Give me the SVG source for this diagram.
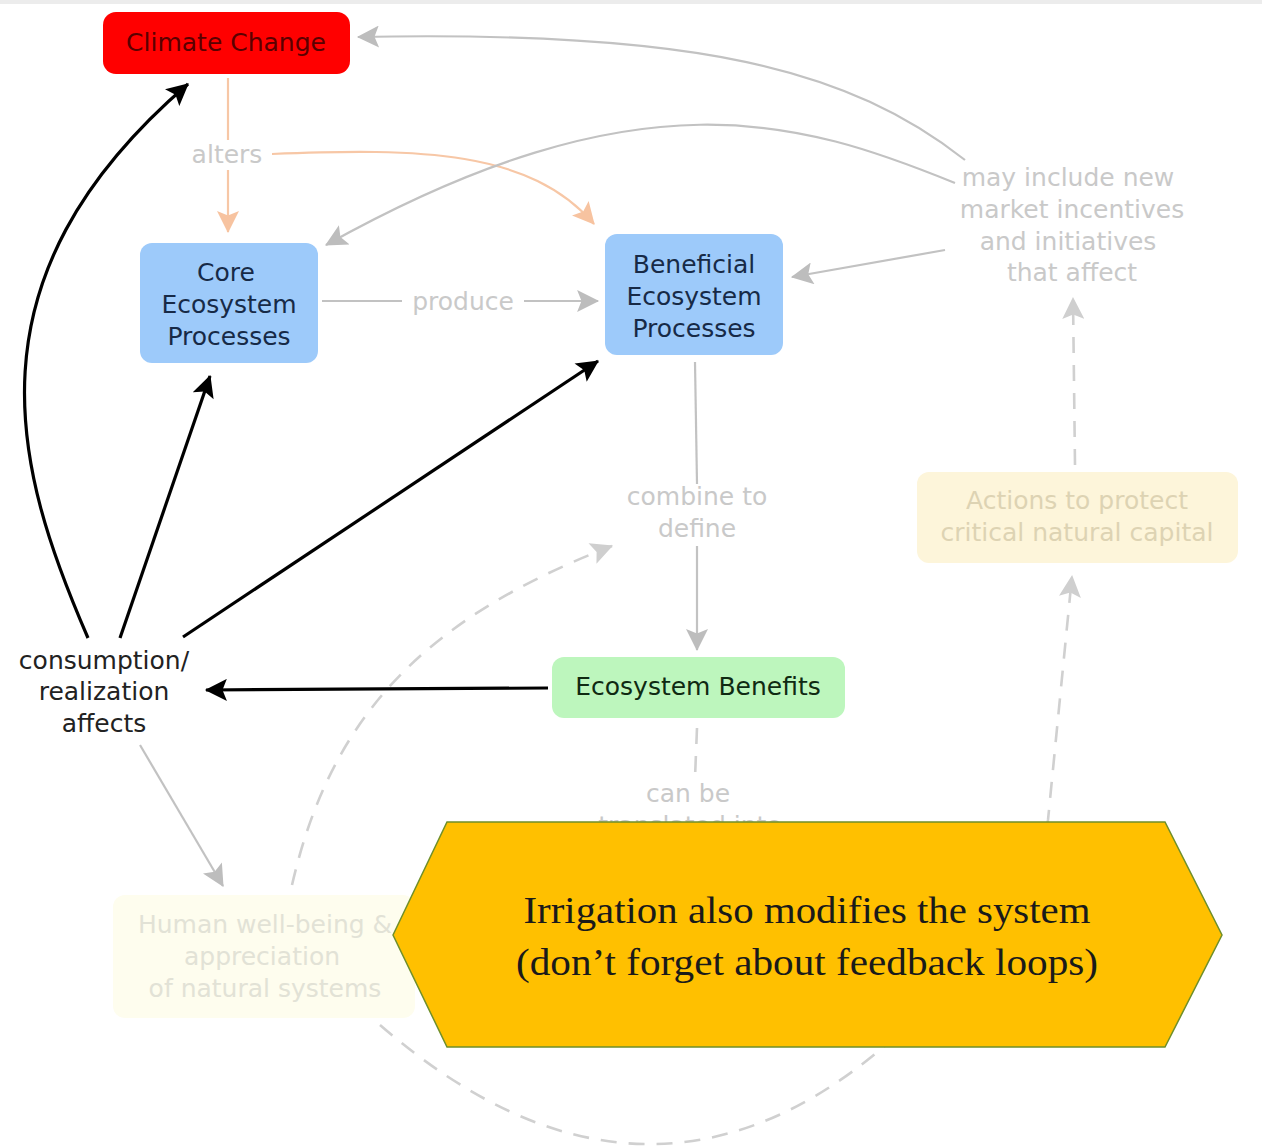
<svg xmlns="http://www.w3.org/2000/svg" width="1262" height="1148" viewBox="0 0 1262 1148">
<defs>
<style>
.lbl{font-family:"DejaVu Sans",Verdana,sans-serif;font-size:25px;text-anchor:middle}
.faint{fill:#c9c9c9}
.blk{fill:none;stroke:#000;stroke-width:3.2}
.gry{fill:none;stroke:#c2c2c2;stroke-width:2.2}
.dsh{fill:none;stroke:#d0d0d0;stroke-width:2.6;stroke-dasharray:16 12}
.org{fill:none;stroke:#f7c7a6;stroke-width:2.2}
</style>
<marker id="aB" viewBox="0 0 20 20" refX="19" refY="10" markerWidth="24" markerHeight="22" markerUnits="userSpaceOnUse" orient="auto"><path d="M0,0 L20,10 L0,20 L4,10 z" fill="#000"/></marker>
<marker id="aG" viewBox="0 0 20 20" refX="19" refY="10" markerWidth="24" markerHeight="22" markerUnits="userSpaceOnUse" orient="auto"><path d="M0,0 L20,10 L0,20 L4,10 z" fill="#bdbdbd"/></marker>
<marker id="aL" viewBox="0 0 20 20" refX="19" refY="10" markerWidth="24" markerHeight="22" markerUnits="userSpaceOnUse" orient="auto"><path d="M0,0 L20,10 L0,20 L4,10 z" fill="#cfcfcf"/></marker>
<marker id="aO" viewBox="0 0 20 20" refX="19" refY="10" markerWidth="24" markerHeight="22" markerUnits="userSpaceOnUse" orient="auto"><path d="M0,0 L20,10 L0,20 L4,10 z" fill="#f7c3a0"/></marker>
</defs>
<rect width="1262" height="1148" fill="#fff"/>
<rect width="1262" height="4" fill="#ececec"/>

<g id="connectors">
  <!-- orange: alters -->
  <path class="org" d="M228,78 L228,140"/>
  <path class="org" d="M228,170 L228,232" marker-end="url(#aO)"/>
  <path class="org" d="M272,154 C420,148 530,150 594,224" marker-end="url(#aO)"/>
  <!-- gray solid -->
  <path class="gry" d="M322,301 L402,301"/>
  <path class="gry" d="M524,301 L598,301" marker-end="url(#aG)"/>
  <path class="gry" d="M695,362 L697,484"/>
  <path class="gry" d="M697,546 L697,650" marker-end="url(#aG)"/>
  <path class="gry" d="M965,160 C850,70 700,30 358,37" marker-end="url(#aG)"/>
  <path class="gry" d="M955,183 C800,120 640,70 326,245" marker-end="url(#aG)"/>
  <path class="gry" d="M945,250 L792,277" marker-end="url(#aG)"/>
  <path class="gry" d="M140,745 L223,886" marker-end="url(#aG)"/>
  <!-- dashed -->
  <path class="dsh" d="M1075,465 L1073,298" marker-end="url(#aL)"/>
  <path class="dsh" d="M292,885 C330,720 420,620 612,546" marker-end="url(#aL)"/>
  <path class="dsh" d="M697,728 L695,778"/>
  <path class="dsh" d="M380,1025 Q640,1250 880,1050 C990,960 1040,880 1048,820 L1072,576" marker-end="url(#aL)"/>
  <!-- black -->
  <path class="blk" d="M88,638 C15,470 -40,280 188,84" marker-end="url(#aB)"/>
  <path class="blk" d="M120,638 L210,376" marker-end="url(#aB)"/>
  <path class="blk" d="M183,637 L598,361" marker-end="url(#aB)"/>
  <path class="blk" d="M548,688 L206,690" marker-end="url(#aB)"/>
</g>

<g id="climate-change">
  <rect x="103" y="12" width="247" height="62" rx="13" fill="#ff0000"/>
  <text class="lbl" x="226" y="51" fill="#5a0000">Climate Change</text>
</g>
<g id="alters"><text class="lbl faint" x="227" y="163">alters</text></g>
<g id="core-ecosystem-processes">
  <rect x="140" y="243" width="178" height="120" rx="12" fill="#9dcafa"/>
  <text class="lbl" x="226" y="281" fill="#172a47">Core</text>
  <text class="lbl" x="229" y="313" fill="#172a47">Ecosystem</text>
  <text class="lbl" x="229" y="345" fill="#172a47">Processes</text>
</g>
<g id="produce"><text class="lbl faint" x="463" y="310">produce</text></g>
<g id="beneficial-ecosystem-processes">
  <rect x="605" y="234" width="178" height="121" rx="12" fill="#9dcafa"/>
  <text class="lbl" x="694" y="273" fill="#172a47">Beneficial</text>
  <text class="lbl" x="694" y="305" fill="#172a47">Ecosystem</text>
  <text class="lbl" x="694" y="337" fill="#172a47">Processes</text>
</g>
<g id="may-include">
  <text class="lbl faint" x="1068" y="186">may include new</text>
  <text class="lbl faint" x="1072" y="218">market incentives</text>
  <text class="lbl faint" x="1068" y="250">and initiatives</text>
  <text class="lbl faint" x="1072" y="281">that affect</text>
</g>
<g id="combine-to-define">
  <text class="lbl faint" x="697" y="505">combine to</text>
  <text class="lbl faint" x="697" y="537">define</text>
</g>
<g id="actions">
  <rect x="917" y="472" width="321" height="91" rx="12" fill="#fdf5da"/>
  <text class="lbl" x="1077" y="509" fill="#ddd3b3">Actions to protect</text>
  <text class="lbl" x="1077" y="541" fill="#ddd3b3">critical natural capital</text>
</g>
<g id="consumption">
  <text class="lbl" x="104" y="669" fill="#222">consumption/</text>
  <text class="lbl" x="104" y="700" fill="#222">realization</text>
  <text class="lbl" x="104" y="732" fill="#222">affects</text>
</g>
<g id="ecosystem-benefits">
  <rect x="552" y="657" width="293" height="61" rx="12" fill="#bdf6bd"/>
  <text class="lbl" x="698" y="695" fill="#0f2a12">Ecosystem Benefits</text>
</g>
<g id="can-be">
  <text class="lbl faint" x="688" y="802">can be</text>
  <text class="lbl faint" x="690" y="834">translated into</text>
</g>
<g id="human-well-being">
  <rect x="113" y="895" width="302" height="123" rx="12" fill="#fefdee"/>
  <text class="lbl" x="265" y="933" fill="#e2e2d6">Human well-being &amp;</text>
  <text class="lbl" x="262" y="965" fill="#e2e2d6">appreciation</text>
  <text class="lbl" x="265" y="997" fill="#e2e2d6">of natural systems</text>
</g>
<g id="callout">
  <polygon points="393,935 447,822 1165,822 1222,935 1165,1047 447,1047" fill="#ffc000" stroke="#6f8f2a" stroke-width="1.5"/>
  <text x="807" y="923" font-family="'Liberation Serif',serif" font-size="38" fill="#1a1a1a" text-anchor="middle" textLength="567" lengthAdjust="spacingAndGlyphs">Irrigation also modifies the system</text>
  <text x="807" y="975" font-family="'Liberation Serif',serif" font-size="38" fill="#1a1a1a" text-anchor="middle" textLength="582" lengthAdjust="spacingAndGlyphs">(don’t forget about feedback loops)</text>
</g>
</svg>
